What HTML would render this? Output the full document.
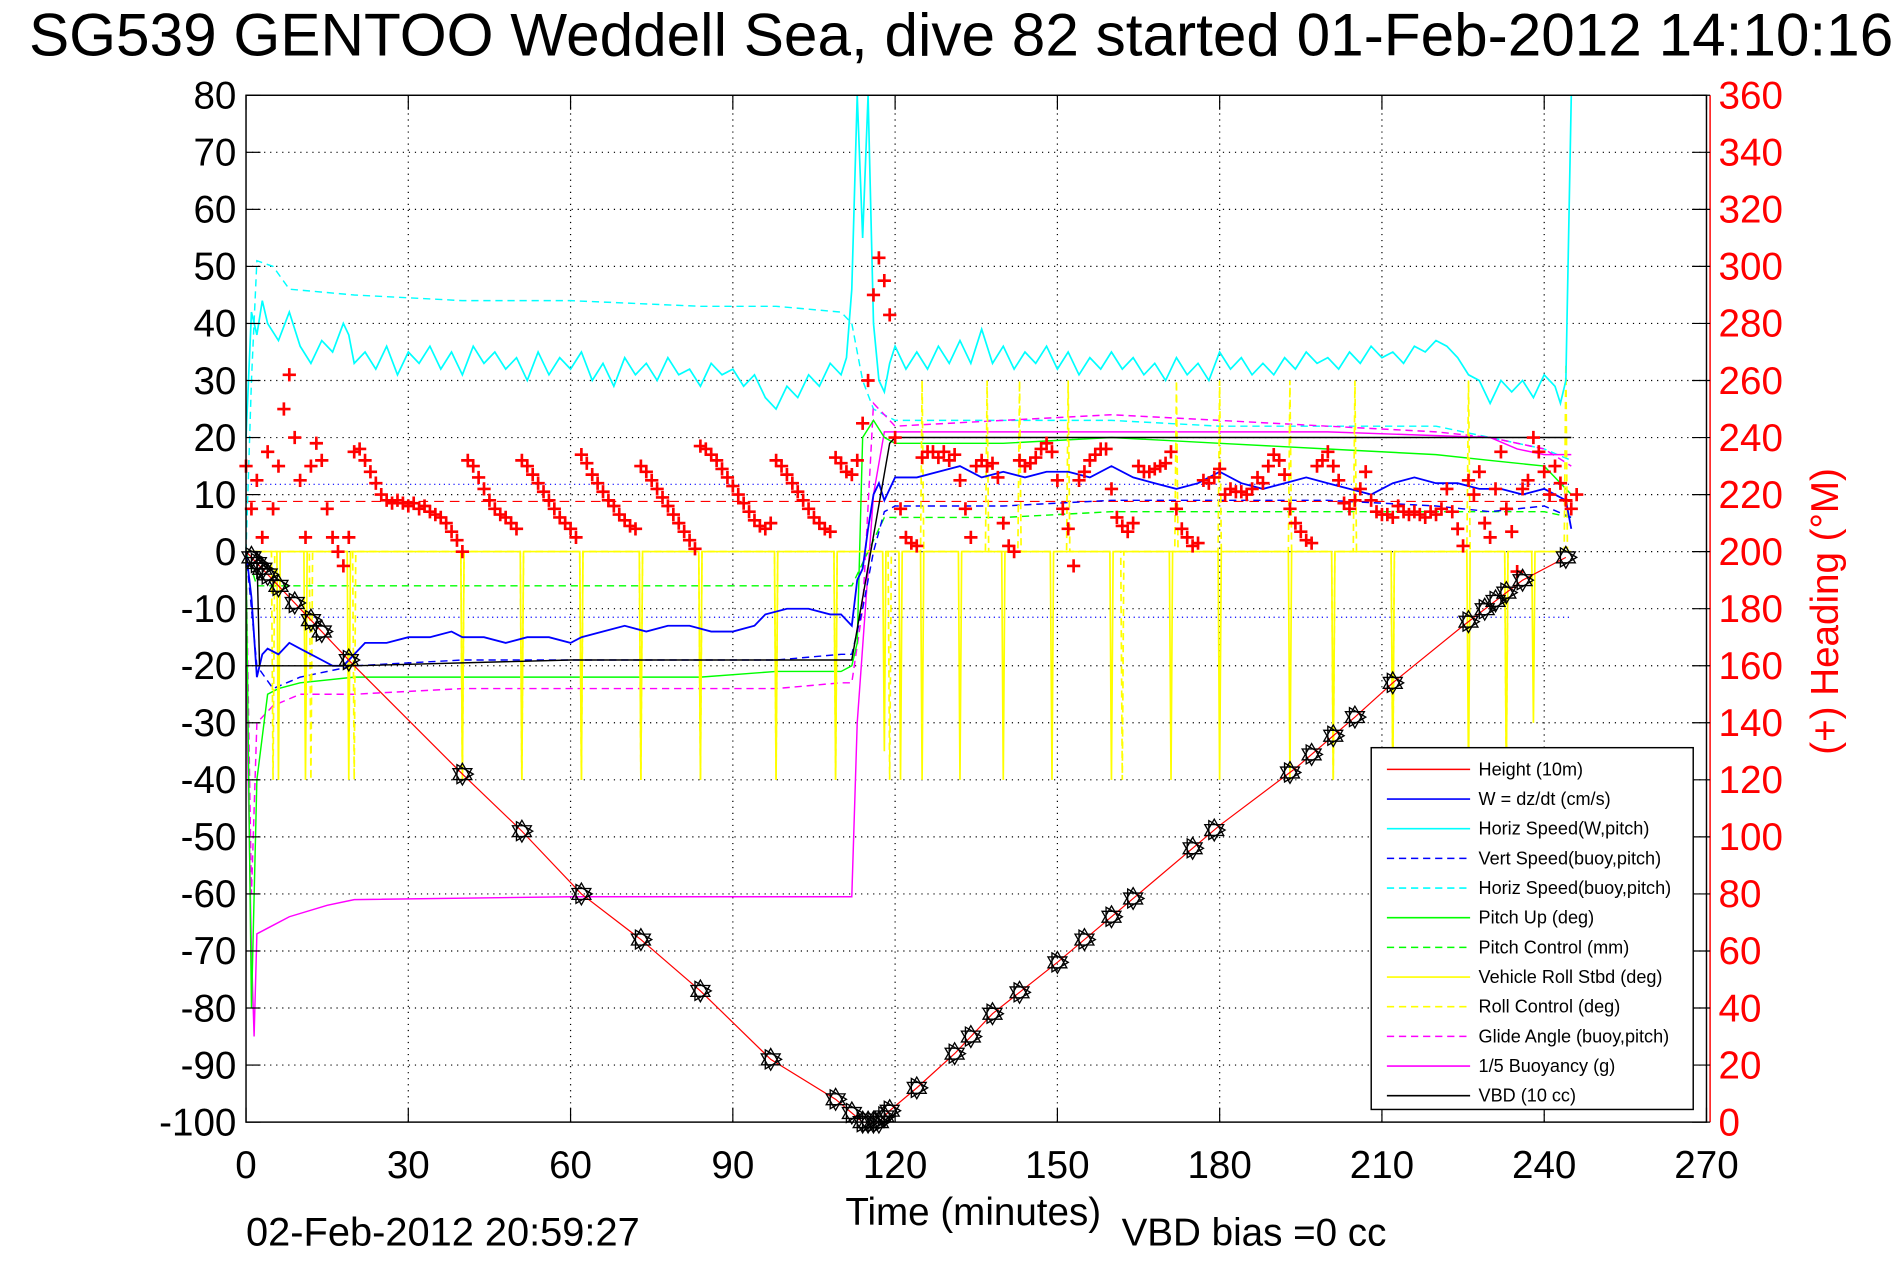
<!DOCTYPE html>
<html><head><meta charset="utf-8">
<style>
html,body{margin:0;padding:0;background:#fff;overflow:hidden;}
svg{display:block;}
text{font-family:"Liberation Sans",Arial,sans-serif;}
</style></head>
<body>
<svg id="chart" width="1891" height="1262" viewBox="0 0 1568 1046.5" preserveAspectRatio="none" xmlns="http://www.w3.org/2000/svg">
<rect x="0" y="0" width="1568" height="1047" fill="#fff"/>
<text x="24" y="46" font-size="50" fill="#000">SG539 GENTOO Weddell Sea, dive 82 started 01-Feb-2012 14:10:16</text>
<g id="grid"></g>
<g id="series"></g>
<g id="axes"></g>
<text x="807" y="1016" font-size="32" text-anchor="middle">Time (minutes)</text>
<text x="204" y="1033" font-size="33">02-Feb-2012 20:59:27</text>
<text x="930" y="1033" font-size="32">VBD bias =0 cc</text>
<text x="0" y="0" font-size="32" fill="#f00" text-anchor="middle" transform="translate(1524,507) rotate(-90)">(+) Heading (°M)</text>
<g id="legend"></g>
</svg>
<script>
// ---- data arrays ----
const xTicks = [0,30,60,90,120,150,180,210,240,270];
const yTicks = [80,70,60,50,40,30,20,10,0,-10,-20,-30,-40,-50,-60,-70,-80,-90,-100];
const hTicks = [360,340,320,300,280,260,240,220,200,180,160,140,120,100,80,60,40,20,0];

const depthT = [0,20,40,51,62,73,84,97,109,114,117,119,124,131,138,150,165,180,194,205,212,225,236,244];
const depthV = [0,-20,-39,-49,-60,-68,-77,-89,-96,-100,-100,-98,-94,-88,-81,-72,-60,-48,-38,-29,-23,-13,-5,-1];
const markT = [1,2,3,4,6,9,12,14,19,40,51,62,73,84,97,109,112,114,115,116,117,118,119,124,131,134,138,143,150,155,160,164,175,179,193,197,201,205,212,226,229,231,233,236,244];

const wT = [0,1,2,3,4,6,8,10,12,14,16,18,20,22,26,30,34,38,40,44,48,52,56,60,62,66,70,74,78,82,86,90,94,96,100,104,108,110,112,113,114,115,116,117,118,120,124,128,132,136,140,144,148,152,156,160,164,168,172,176,180,184,188,192,196,200,204,208,212,216,220,224,228,232,236,240,242,244,245];
const wV = [0,-8,-22,-18,-17,-18,-16,-17,-18,-19,-20,-20,-18,-16,-16,-15,-15,-14,-15,-15,-16,-15,-15,-16,-15,-14,-13,-14,-13,-13,-14,-14,-13,-11,-10,-10,-11,-11,-13,-5,-3,4,10,12,9,13,13,14,15,13,14,13,14,14,13,15,13,12,11,12,14,12,11,12,13,12,11,10,12,13,12,12,11,11,10,11,10,9,4];

const hsT = [0,1,2,3,4,6,8,10,12,14,16,18,19,20,22,24,26,28,30,32,34,36,38,40,42,44,46,48,50,52,54,56,58,60,62,64,66,68,70,72,74,76,78,80,82,84,86,88,90,92,94,96,98,100,102,104,106,108,110,111,112,113,114,115,116,117,118,119,120,122,124,126,128,130,132,134,136,138,140,142,144,146,148,150,152,154,156,158,160,162,164,166,168,170,172,174,176,178,180,182,184,186,188,190,192,194,196,198,200,202,204,206,208,210,212,214,216,218,220,222,224,226,228,230,232,234,236,238,240,242,243,244,245];
const hsV = [20,42,38,44,40,37,42,36,33,37,35,40,38,33,35,32,36,31,35,33,36,32,35,31,36,33,35,32,34,30,35,31,34,32,35,30,33,29,34,31,33,30,34,31,32,29,33,31,32,29,31,27,25,29,27,31,29,33,31,34,46,80,55,80,40,30,28,33,36,32,35,32,36,33,37,33,39,33,36,32,35,33,36,32,35,31,34,32,35,32,34,31,33,30,34,31,33,30,35,32,34,31,33,31,34,32,35,33,34,32,35,33,36,34,35,33,36,35,37,36,34,31,30,26,30,28,30,27,31,29,26,30,80];

const vsT = [0,2,5,10,20,40,62,84,98,110,112,114,116,118,120,140,160,180,200,220,230,240,245];
const vsV = [0,-20,-24,-22,-20,-19,-19,-19,-19,-18,-18,-10,0,7,8,8,9,9,9,8,7,8,6];
const hbT = [0,1,2,5,8,20,40,60,84,98,110,112,114,116,118,120,140,160,180,200,220,230,240,245];
const hbV = [0,30,51,50,46,45,44,44,43,43,42,40,30,25,24,23,23,23,22,22,22,20,18,16];
const puT = [0,1,2,4,6,10,20,40,62,84,98,110,112,113,114,116,118,120,140,160,180,200,220,230,240,245];
const puV = [0,-80,-40,-25,-24,-23,-22,-22,-22,-22,-21,-21,-20,-16,20,23,20,19,19,20,19,18,17,16,15,10];
const pcT = [0,2,5,20,40,62,84,98,110,112,116,118,140,160,180,200,220,240,245];
const pcV = [0,-6,-6,-6,-6,-6,-6,-6,-6,-6,2,6,6,7,7,7,7,7,6];
const gaT = [0,1,2,5,10,20,40,62,84,98,110,112,114,116,118,120,140,160,180,200,220,230,240,245];
const gaV = [0,-60,-30,-27,-25,-25,-24,-24,-24,-24,-23,-23,-10,26,24,22,23,24,23,22,21,20,18,15];
const buT = [0,1,1.5,2,4,8,15,20,60,110,112,113,116,118,150,200,230,235,240,245];
const buV = [-20,-70,-85,-67,-66,-64,-62,-61,-60.5,-60.5,-60.5,-30,10,21,21,21,20,18,17,17];
const vbdT = [0,2,2.5,20,60,110,112,119,120,245];
const vbdV = [0,0,-20,-20,-19,-19,-19,19,20,20];

const rollSpikeT = [6,11,19,40,51,62,73,84,98,109,118,121,125,132,140,149,160,171,180,193,201,212,226,233,238];
const rollSpikeV = [-40,-40,-40,-40,-40,-40,-40,-40,-40,-40,-35,-40,-40,-40,-40,-40,-40,-40,-40,-40,-40,-40,-40,-40,-30];
const rcSpikeT = [5,12,20,40,51,62,73,84,98,109,119,125,137,143,152,162,172,180,193,201,205,212,226,233,244];
const rcSpikeV = [-40,-40,-40,-40,-40,-40,-40,-40,-40,-40,-40,30,30,30,30,-40,30,30,30,-40,30,-40,30,-40,33];

const headingV = [230,215,225,205,235,215,230,250,262,240,225,205,230,238,232,215,205,200,195,205,235,236,232,228,224,220,218,217,218,217,216,217,215,216,214,213,212,210,207,204,200,232,230,226,222,218,215,213,212,210,208,232,230,227,224,221,218,215,212,210,208,205,234,231,227,224,221,218,216,213,211,209,208,230,228,225,222,219,216,213,210,207,204,201,237,236,234,232,229,226,223,220,217,214,211,209,208,210,232,230,227,224,221,218,215,212,210,208,207,233,231,228,227,232,245,260,290,303,295,283,240,215,205,203,202,233,235,235,233,235,232,234,225,215,205,230,232,230,231,226,210,202,200,232,230,231,233,236,238,235,225,215,208,195,225,228,232,234,236,236,222,212,209,207,210,230,228,228,229,230,231,235,215,208,205,202,203,225,224,226,229,220,222,221,221,220,222,226,224,230,234,232,227,215,210,207,204,203,230,232,235,230,225,217,215,218,222,228,218,214,213,213,212,216,214,213,214,213,212,214,213,215,222,214,208,202,225,220,228,210,205,222,235,215,207,193,222,225,240,235,228,220,230,224,218,215,220];
const refHeading = 217.6;
const refSpeedLines = [11.8,-11.5];

// ---- scales ----
const L=204,R=1415,T=79,B=930.5;
function X(t){return L+(t-0)*(R-L)/270;}
function Y(v){return B-(v+100)*(B-T)/180;}
function YH(h){return Y(h/2-100);}
const NS="http://www.w3.org/2000/svg";
function el(tag,attrs,parent){const e=document.createElementNS(NS,tag);for(const k in attrs)e.setAttribute(k,attrs[k]);parent.appendChild(e);return e;}
const grid=document.getElementById('grid'),ser=document.getElementById('series'),ax=document.getElementById('axes'),leg=document.getElementById('legend');

xTicks.forEach(t=>{if(t>0&&t<270){const g=el('line',{x1:X(t),x2:X(t),y1:T,y2:B,stroke:'#000','stroke-width':1,'stroke-dasharray':'1 4'},grid);}});
yTicks.forEach(v=>{if(v>-100&&v<80){const g=el('line',{x1:L,x2:R,y1:Y(v),y2:Y(v),stroke:'#000','stroke-width':1,'stroke-dasharray':'1 4'},grid);}});

function poly(ts,vs,color,dash,name,w){
  const pts=ts.map((t,i)=>X(t).toFixed(1)+','+Y(vs[i]).toFixed(1)).join(' ');
  const p=el('polyline',{points:pts,fill:'none',stroke:color,'stroke-width':w||1.2},ser);
  if(dash)p.setAttribute('stroke-dasharray',dash);
  
  
  return p;
}
function spikes(st,sv,color,dash,name){
  const ts=[0],vs=[0];
  st.forEach((t,i)=>{ts.push(t-0.3,t,t+0.3);vs.push(0,sv[i],0);});
  ts.push(245);vs.push(0);
  poly(ts,vs,color,dash,name,1.4);
}
refSpeedLines.forEach(v=>{const r=el('line',{x1:L,x2:X(245),y1:Y(v),y2:Y(v),stroke:'#00f','stroke-width':1,'stroke-dasharray':'1 3'},ser);});
const rh=el('line',{x1:L,x2:X(246),y1:YH(refHeading),y2:YH(refHeading),stroke:'#f00','stroke-width':1,'stroke-dasharray':'8 5'},ser);



poly(hbT,hbV,'#0ff','6 4','horiz-speed-buoy-line');
poly(gaT,gaV,'#f0f','6 4','glide-angle-line');
poly(buT,buV,'#f0f',null,'buoyancy-line');
poly(pcT,pcV,'#0f0','6 4','pitch-control-line');
poly(puT,puV,'#0f0',null,'pitch-up-line');
poly(vsT,vsV,'#00f','6 4','vert-speed-buoy-line');
spikes(rcSpikeT,rcSpikeV,'#ff0','6 4','roll-control-line');
spikes(rollSpikeT,rollSpikeV,'#ff0',null,'vehicle-roll-line');
poly(hsT,hsV,'#0ff',null,'horiz-speed-line',1.4);
poly(wT,wV,'#00f',null,'w-speed-line',1.5);
poly(vbdT,vbdV,'#000',null,'vbd-line');
poly(depthT,depthV,'#f00',null,'height-line',1);

headingV.forEach((h,i)=>{
  const x=X(i),y=YH(h);
  const m=el('path',{d:`M${x-5.5},${y}H${x+5.5}M${x},${y-5.5}V${y+5.5}`,stroke:'#f00','stroke-width':2.2,fill:'none'},ser);
  
  
});
function interp(t){for(let i=1;i<depthT.length;i++){if(t<=depthT[i]){const f=(t-depthT[i-1])/(depthT[i]-depthT[i-1]);return depthV[i-1]+f*(depthV[i]-depthV[i-1]);}}return depthV[depthV.length-1];}
markT.forEach(t=>{
  const x=X(t),y=Y(interp(t)),s=9;
  const d=`M${x},${y-s}L${x+s*0.87},${y+s*0.5}L${x-s*0.87},${y+s*0.5}Z M${x},${y+s}L${x+s*0.87},${y-s*0.5}L${x-s*0.87},${y-s*0.5}Z M${x+s},${y}L${x-s*0.5},${y-s*0.87}L${x-s*0.5},${y+s*0.87}Z`;
  const m=el('path',{d:d,stroke:'#000','stroke-width':1.1,fill:'none'},ser);
  
  
});

const box=el('rect',{x:L,y:T,width:R-L,height:B-T,fill:'none',stroke:'#000','stroke-width':1.2},ax);


const ra=el('line',{x1:R+3,x2:R+3,y1:T,y2:B,stroke:'#f00','stroke-width':1.2},ax);


xTicks.forEach(t=>{
  el('line',{x1:X(t),x2:X(t),y1:B,y2:B-12,stroke:'#000','stroke-width':1},ax);
  el('line',{x1:X(t),x2:X(t),y1:T,y2:T+12,stroke:'#000','stroke-width':1},ax);
  const tx=el('text',{x:X(t),y:977,'font-size':32,'text-anchor':'middle'},ax);tx.textContent=t;
  
  
});
yTicks.forEach(v=>{
  el('line',{x1:L,x2:L+12,y1:Y(v),y2:Y(v),stroke:'#000','stroke-width':1},ax);
  const tx=el('text',{x:196,y:Y(v)+11,'font-size':32,'text-anchor':'end'},ax);tx.textContent=v;
  
  
});
hTicks.forEach(h=>{
  el('line',{x1:R-12,x2:R+3,y1:YH(h),y2:YH(h),stroke:'#000','stroke-width':1},ax);
  const tx=el('text',{x:1425,y:YH(h)+11,'font-size':32,fill:'#f00'},ax);tx.textContent=h;
  
  
});

const legNames=['Height (10m)','W = dz/dt (cm/s)','Horiz Speed(W,pitch)','Vert Speed(buoy,pitch)','Horiz Speed(buoy,pitch)','Pitch Up (deg)','Pitch Control (mm)','Vehicle Roll Stbd (deg)','Roll Control (deg)','Glide Angle (buoy,pitch)','1/5 Buoyancy (g)','VBD (10 cc)'];
const legColors=['#f00','#00f','#0ff','#00f','#0ff','#0f0','#0f0','#ff0','#ff0','#f0f','#f0f','#000'];
const legDash=[0,0,0,1,1,0,1,0,1,1,0,0];
const lb=el('rect',{x:1137,y:620,width:267,height:300,fill:'#fff',stroke:'#000','stroke-width':1.2},leg);


legNames.forEach((n,i)=>{
  const y=638+i*24.6;
  const g=el('g',{},leg);
  
  
  const ln=el('line',{x1:1150,x2:1219,y1:y,y2:y,stroke:legColors[i],'stroke-width':1.3},g);
  if(legDash[i])ln.setAttribute('stroke-dasharray','6 4');
  const tx=el('text',{x:1226,y:y+5,'font-size':15},g);tx.textContent=n;
});
</script>
</body></html>
